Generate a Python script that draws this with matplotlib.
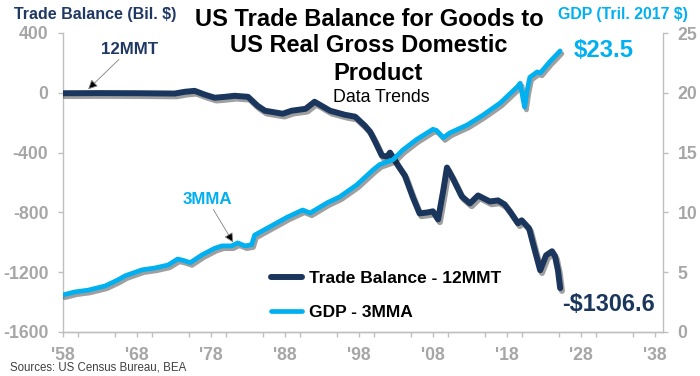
import matplotlib
matplotlib.use("Agg")
import matplotlib.pyplot as plt
import matplotlib.patheffects as pe
from matplotlib.ticker import MultipleLocator

# ---------------- data ----------------
trade_years = [1958.0, 1963.0, 1968.4, 1973.1, 1974.5, 1975.8, 1977.2, 1978.5, 1979.9,
               1981.2, 1983.0, 1984.3, 1985.3, 1987.7, 1988.9, 1990.8, 1992.0, 1994.1,
               1996.1, 1997.5, 1998.8, 1999.5, 2000.2, 2001.1, 2001.8, 2002.2, 2003.3,
               2004.2, 2005.3, 2006.2, 2007.3, 2008.0, 2008.7, 2009.4, 2009.9, 2010.7,
               2011.9, 2013.0, 2014.1, 2015.7, 2016.8, 2017.7, 2018.4, 2019.5, 2020.0,
               2021.0, 2021.7, 2022.5, 2023.3, 2024.1, 2024.5, 2024.9, 2025.2]
trade_vals = [-3, -2, -3, -5, 7, 13, -13, -33, -27,
              -20, -27, -87, -120, -140, -120, -107, -60, -120,
              -147, -160, -220, -260, -327, -420, -427, -400, -487,
              -553, -700, -807, -800, -793, -847, -653, -500, -573,
              -693, -740, -687, -727, -720, -747, -793, -873, -853,
              -907, -1040, -1187, -1087, -1060, -1093, -1187, -1306.6]

gdp_years = [1958.0, 1959.6, 1961.4, 1963.7, 1965.4, 1966.4, 1968.7, 1970.4, 1972.2,
             1973.5, 1974.2, 1975.2, 1976.8, 1978.5, 1979.5, 1980.8, 1981.6, 1982.6,
             1983.5, 1983.9, 1986.4, 1988.3, 1990.4, 1991.4, 1993.7, 1995.4, 1997.7,
             1999.9, 2000.8, 2002.6, 2003.9, 2005.8, 2008.0, 2008.5, 2009.4, 2010.3,
             2012.6, 2014.8, 2017.1, 2019.4, 2019.8, 2020.2, 2020.4, 2020.7, 2021.1,
             2022.1, 2022.5, 2023.8, 2025.2]
gdp_vals = [3.1, 3.35, 3.5, 3.85, 4.35, 4.7, 5.2, 5.35, 5.6,
            6.1, 6.0, 5.8, 6.45, 7.0, 7.2, 7.2, 7.45, 7.2,
            7.3, 8.1, 8.95, 9.6, 10.2, 9.95, 10.8, 11.3, 12.3,
            13.55, 14.0, 14.4, 15.2, 16.1, 16.95, 16.85, 16.25, 16.65,
            17.3, 18.15, 19.15, 20.5, 20.8, 19.4, 18.8, 20.1, 21.3,
            21.75, 21.65, 22.6, 23.5]

xtick_years = [1958, 1968, 1978, 1988, 1998, 2008, 2018, 2028, 2038]
xtick_labels = ["'58", "'68", "'78", "'88", "'98", "'08", "'18", "'28", "'38"]
left_ticks = [400, 0, -400, -800, -1200, -1600]
right_ticks = [0, 5, 10, 15, 20, 25]

NAVY = "#1B365D"
BLUE = "#00B0F0"
GRAY = "#A6A6A6"
SPINE = "#BFBFBF"

FONT = "Liberation Sans"
plt.rcParams["font.family"] = [FONT, "DejaVu Sans"]
plt.rcParams["axes.unicode_minus"] = False

fig = plt.figure(figsize=(7.0, 3.76), dpi=100)
ax1 = fig.add_axes([63 / 700, 1 - 332 / 376, 600 / 700, 299 / 376])
ax2 = ax1.twinx()

def shadow():
    return [pe.SimpleLineShadow(offset=(1.3, -2.0), shadow_color="#1a1a1a", alpha=0.42),
            pe.Normal()]

l1, = ax1.plot(trade_years, trade_vals, color=NAVY, lw=4.3, solid_capstyle="round",
               solid_joinstyle="round", path_effects=shadow(),
               label="Trade Balance - 12MMT", zorder=3)
l2, = ax2.plot(gdp_years, gdp_vals, color=BLUE, lw=3.4, solid_capstyle="round",
               solid_joinstyle="round", path_effects=shadow(),
               label="GDP - 3MMA", zorder=3)

ax1.set_xlim(1958, 2039.1)
ax1.set_ylim(-1600, 400)
ax2.set_ylim(0, 25)

ax1.set_xticks(xtick_years)
ax1.set_xticklabels(xtick_labels)
ax1.xaxis.set_minor_locator(MultipleLocator(5))
ax1.set_yticks(left_ticks)
ax1.set_yticklabels([str(t) for t in left_ticks])
ax2.set_yticks(right_ticks)
ax2.set_yticklabels([str(t) for t in right_ticks])

for ax in (ax1, ax2):
    ax.spines["top"].set_visible(False)
    for s in ("left", "right", "bottom"):
        ax.spines[s].set_color(SPINE)
        ax.spines[s].set_linewidth(1.0)
    ax.tick_params(axis="both", which="both", colors=SPINE, length=3.6, width=1.0,
                   direction="out")
    ax.tick_params(axis="both", which="major", labelcolor=GRAY, labelsize=12.7, pad=7)
    for lab in ax.get_xticklabels() + ax.get_yticklabels():
        lab.set_fontweight("bold")
ax1.tick_params(axis="x", which="minor", length=3.6)
ax2.spines["left"].set_visible(False)
ax1.spines["right"].set_visible(False)

# titles and labels
TSIZE = 17
fig.text(369 / 700, 1 - 19 / 376, "US Trade Balance for Goods to", ha="center", va="center",
         fontsize=TSIZE, fontweight="bold", color="black")
fig.text(369 / 700, 1 - 46 / 376, "US Real Gross Domestic", ha="center", va="center",
         fontsize=TSIZE, fontweight="bold", color="black")
fig.text(378 / 700, 1 - 73 / 376, "Product", ha="center", va="center",
         fontsize=TSIZE, fontweight="bold", color="black")
fig.text(381 / 700, 1 - 98 / 376, "Data Trends", ha="center", va="center",
         fontsize=12.8, color="black")
fig.text(14 / 700, 1 - 15 / 376, "Trade Balance (Bil. $)", ha="left", va="center",
         fontsize=11.5, fontweight="bold", color="#1F3864")
fig.text(688 / 700, 1 - 15 / 376, "GDP (Tril. 2017 $)", ha="right", va="center",
         fontsize=11.4, fontweight="bold", color=BLUE)
fig.text(10 / 700, 1 - 368 / 376, "Sources: US Census Bureau, BEA", ha="left", va="center",
         fontsize=8.3, color="#404040")

# annotations
ax1.annotate("12MMT", xy=(1961.4, 24), xytext=(1967.0, 292), ha="center", va="center",
             fontsize=12.2, fontweight="bold", color="#1F3864",
             arrowprops=dict(arrowstyle="-|>", ec="#808080", fc="black", lw=0.6,
                             mutation_scale=14, shrinkA=0, shrinkB=0))
ax1.annotate("3MMA", xy=(1981.0, -1001), xytext=(1977.5, -713), ha="center", va="center",
             fontsize=12.2, fontweight="bold", color=BLUE,
             arrowprops=dict(arrowstyle="-|>", ec="#808080", fc="black", lw=0.6,
                             mutation_scale=14, shrinkA=0, shrinkB=0))

# end-value labels
ax1.annotate("-${:.1f}".format(abs(trade_vals[-1])), xy=(trade_years[-1], trade_vals[-1]),
             xytext=(2, -16), textcoords="offset pixels", ha="left", va="center",
             fontsize=16.8, fontweight="bold", color=NAVY)
ax2.annotate("${:.1f}".format(gdp_vals[-1]), xy=(gdp_years[-1], gdp_vals[-1]),
             xytext=(13, 0), textcoords="offset pixels", ha="left", va="center",
             fontsize=17.2, fontweight="bold", color=BLUE)

# legend
leg = fig.legend(handles=[l1, l2], loc="center left",
                 bbox_to_anchor=(271 / 700, 1 - 295.5 / 376), bbox_transform=fig.transFigure,
                 frameon=False, borderpad=0, borderaxespad=0, handlelength=1.8,
                 handletextpad=0.4, labelspacing=1.1,
                 prop=dict(family=FONT, weight="bold", size=12.5))
for h in leg.legend_handles:
    h.set_path_effects([])
for t in leg.get_texts():
    t.set_color("black")

fig.savefig("out.png", dpi=100)
